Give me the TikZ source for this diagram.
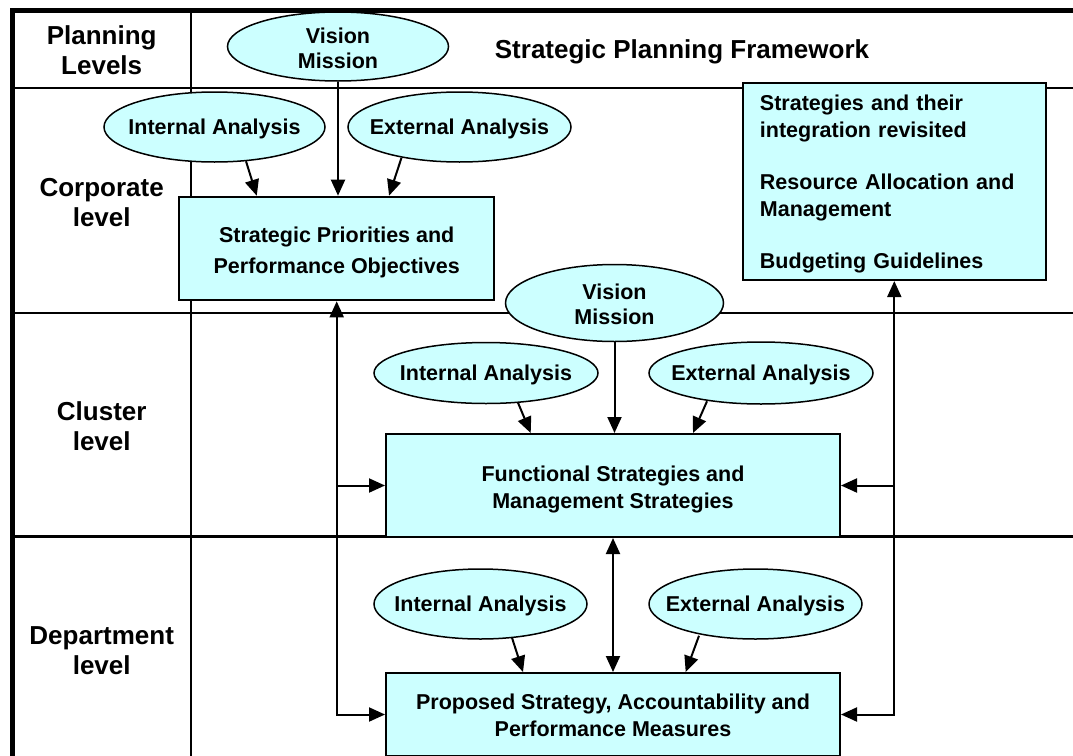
\documentclass[tikz,border=0pt]{standalone}
\usepackage{fontspec}
\setmainfont{Liberation Sans}
\usetikzlibrary{shapes.geometric,arrows.meta,calc}
\definecolor{paleCyan}{RGB}{204,255,255}
\begin{document}
\begin{tikzpicture}[x=1pt,y=-1pt,
  rowline/.style={line width=2.2pt},
  outerline/.style={line width=4.5pt},
  oval/.style={ellipse,draw,line width=1.5pt,fill=paleCyan,inner sep=0pt},
  panel/.style={draw,line width=2pt,fill=paleCyan,inner sep=0pt},
  ovaltext/.style={inner sep=0pt,align=center,yshift=-1.5pt,
    font=\fontsize{21.5}{25}\selectfont\bfseries},
  paneltext/.style={inner sep=0pt,align=center,
    font=\fontsize{21.5}{27}\selectfont\bfseries},
  levelname/.style={align=center,font=\fontsize{26}{30.5}\selectfont\bfseries},
  link/.style={line width=2pt,-{Triangle[length=16pt,width=14pt]}},
  twoway/.style={line width=2pt,{Triangle[length=16pt,width=14pt]}-{Triangle[length=16pt,width=14pt]}},
]
\useasboundingbox (0,0) rectangle (1073,755);

% table grid
\draw[rowline] (12.5,88.3) -- (1080,88.3);
\draw[rowline] (12.5,312.7) -- (1080,312.7);
\draw[rowline] (12.5,536.5) -- (1080,536.5);
\draw[rowline] (191.3,10) -- (191.3,760);
\draw[outerline] (10.25,10.5) -- (1080,10.5);
\draw[outerline] (12.5,8.25) -- (12.5,760);

% level names and title
\node[levelname] (hdr) at (101.7,50) {Planning\\Levels};
\node[levelname] (title) at (682,51.7) {Strategic Planning Framework};
\node[levelname] (corp) at (101.7,202.5) {Corporate\\level};
\node[levelname] (clus) at (101.7,426) {Cluster\\level};
\node[levelname] (dept) at (101.7,650.5) {Department\\level};

% corporate level
\node[oval,minimum width=221pt,minimum height=69pt] (vm1) at (338,46.5) {};
\node[ovaltext] (vm1t) at (vm1) {Vision\\Mission};
\node[oval,minimum width=221pt,minimum height=70pt] (ia1) at (214.5,127) {};
\node[ovaltext] (ia1t) at (ia1) {Internal Analysis};
\node[oval,minimum width=223pt,minimum height=70pt] (ea1) at (459.5,127) {};
\node[ovaltext] (ea1t) at (ea1) {External Analysis};
\node[panel,minimum width=314.7pt,minimum height=103.6pt] (sp) at (336.7,248.5) {};
\node[paneltext,font=\fontsize{21.5}{31}\selectfont\bfseries] (spt) at (336.7,252)
  {Strategic Priorities and\\Performance Objectives};
\node[panel,minimum width=303.3pt,minimum height=196.7pt] (rb) at (894.3,181.7) {};
\node[paneltext,align=left,text width=268.7pt,
  font=\fontsize{21.5}{26.3}\selectfont\bfseries] (rbt) at (894.3,184.2)
  {Strategies and their\\integration revisited\\[26.3pt]Resource Allocation and\\Management\\[26.3pt]Budgeting Guidelines};

% cluster level
\node[oval,minimum width=218pt,minimum height=77pt] (vm2) at (614.5,303) {};
\node[ovaltext] (vm2t) at (vm2) {Vision\\Mission};
\node[oval,minimum width=224pt,minimum height=61pt] (ia2) at (486,373) {};
\node[ovaltext] (ia2t) at (ia2) {Internal Analysis};
\node[oval,minimum width=224pt,minimum height=62pt] (ea2) at (761,373) {};
\node[ovaltext] (ea2t) at (ea2) {External Analysis};
\node[panel,minimum width=454pt,minimum height=103pt] (fs) at (613,485.5) {};
\node[paneltext] (fst) at (613,489.5) {Functional Strategies and\\Management Strategies};

% department level
\node[oval,minimum width=213pt,minimum height=70pt] (ia3) at (480.5,604) {};
\node[ovaltext] (ia3t) at (ia3) {Internal Analysis};
\node[oval,minimum width=213pt,minimum height=70pt] (ea3) at (755.5,604) {};
\node[ovaltext] (ea3t) at (ea3) {External Analysis};
\node[panel,minimum width=454pt,minimum height=83pt] (pp) at (613,714.5) {};
\node[paneltext] (ppt) at (613,715.5) {Proposed Strategy, Accountability and\\Performance Measures};

% inputs into each level
\draw[link] (vm1.south) -- (vm1.south |- sp.north);
\draw[link] ($(ia1.south)+(31.5,-1.5)$) -- ($(sp.north west)+(78.4,0)$);
\draw[link] ($(ea1.south)+(-58,-5)$) -- ($(sp.north west)+(210.7,0)$);

\draw[link] (vm2.south) -- (vm2.south |- fs.north);
\draw[link] ($(ia2.south)+(32,-1.5)$) -- ($(fs.north west)+(145.7,0)$);
\draw[link] ($(ea2.south)+(-54,-3.5)$) -- ($(fs.north west)+(308,0)$);

\draw[twoway] (fs.south) -- (pp.north);
\draw[link] ($(ia3.south)+(31.5,-2)$) -- ($(pp.north west)+(138,0)$);
\draw[link] ($(ea3.south)+(-56.5,-4)$) -- ($(pp.north west)+(300.7,0)$);

% feedback between levels
\draw[twoway] (sp.south) -- (sp.south |- pp.west) -- (pp.west);
\draw[link] (sp.south |- fs.west) -- (fs.west);
\draw[twoway] (rb.south) -- (rb.south |- pp.east) -- (pp.east);
\draw[link] (rb.south |- fs.east) -- (fs.east);
\end{tikzpicture}
\end{document}
